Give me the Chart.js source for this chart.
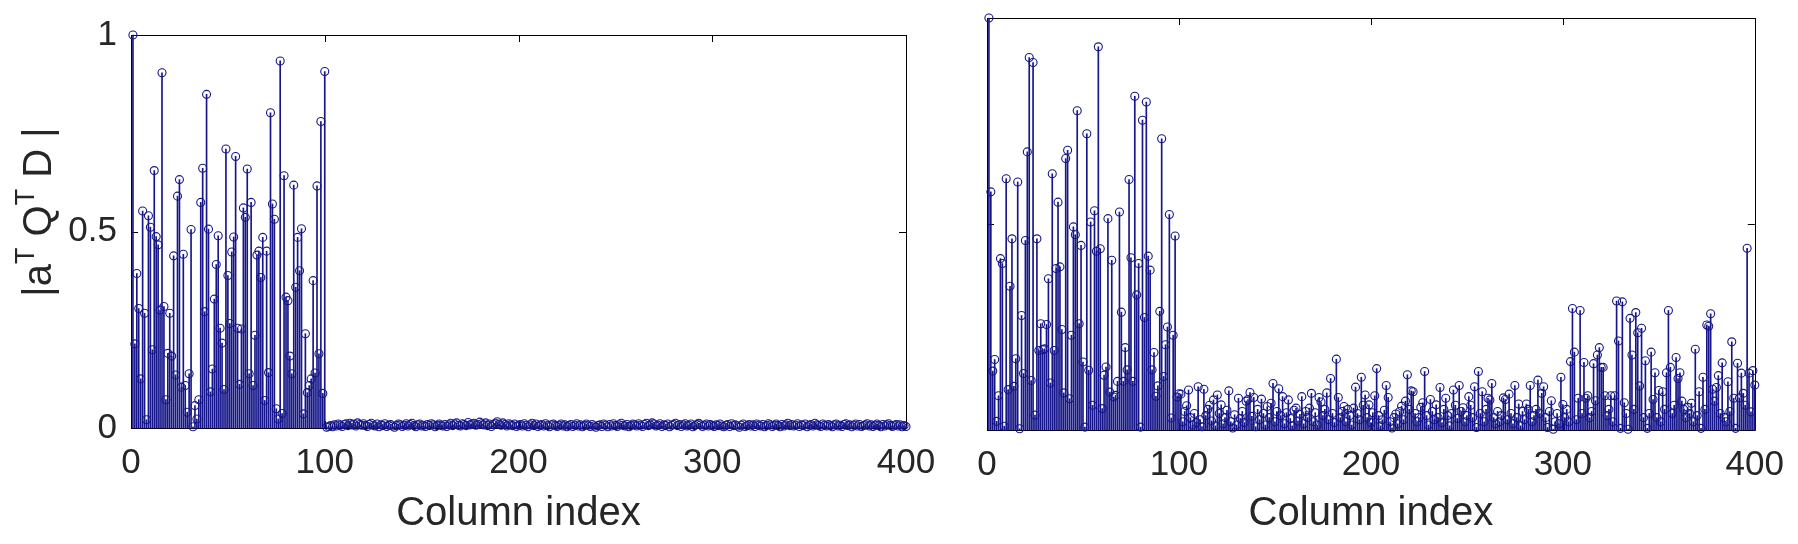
<!DOCTYPE html>
<html>
<head>
<meta charset="utf-8">
<script src="https://cdn.jsdelivr.net/npm/chart.js@4.4.0/dist/chart.umd.min.js"></script>
<style>
  html, body { margin:0; padding:0; background:#fff; }
  body { width:1798px; height:544px; position:relative; overflow:hidden; }
  canvas { position:absolute; top:0; }
  #leftChart { left:0; }
  #rightChart { left:950px; }
</style>
</head>
<body>
<canvas id="leftChart" width="950" height="544"></canvas>
<canvas id="rightChart" width="848" height="544"></canvas>
<script>
// ---------------- data ----------------
const xTicks = [0, 100, 200, 300, 400];
const yTicks = [0, 0.5, 1];
const xTitle = 'Column index';

// left panel, columns 1..100
const leftHead = [
  1.0, 0.214, 0.393, 0.304, 0.125, 0.552, 0.292, 0.021, 0.54, 0.511,
  0.199, 0.655, 0.487, 0.466, 0.30, 0.904, 0.309, 0.072, 0.19, 0.292,
  0.183, 0.438, 0.135, 0.59, 0.632, 0.104, 0.442, 0.108, 0.04, 0.138,
  0.505, 0.003, 0.057, 0.023, 0.072, 0.574, 0.661, 0.296, 0.849, 0.506,
  0.092, 0.15, 0.328, 0.416, 0.489, 0.254, 0.216, 0.098, 0.71, 0.388,
  0.266, 0.448, 0.486, 0.691, 0.254, 0.111, 0.252, 0.56, 0.536, 0.659,
  0.138, 0.574, 0.108, 0.236, 0.44, 0.45, 0.383, 0.485, 0.07, 0.45,
  0.141, 0.802, 0.57, 0.531, 0.049, 0.023, 0.934, 0.037, 0.642, 0.333,
  0.324, 0.183, 0.138, 0.618, 0.358, 0.485, 0.40, 0.507, 0.036, 0.24,
  0.09, 0.108, 0.125, 0.375, 0.14, 0.616, 0.189, 0.78, 0.088, 0.907
];
// left panel, columns 101..400
const leftTail = [
  0.002,0.004,0.006,0.003,0.008,0.005,0.010,0.007,0.004,0.009,0.011,0.006,0.012,0.008,0.010,0.005,0.013,0.009,0.007,0.011,
  0.006,0.004,0.009,0.012,0.007,0.005,0.010,0.003,0.008,0.006,0.011,0.004,0.007,0.009,0.005,0.002,0.006,0.010,0.008,0.004,
  0.007,0.011,0.005,0.009,0.012,0.006,0.003,0.008,0.010,0.005,0.007,0.004,0.009,0.006,0.011,0.008,0.003,0.006,0.010,0.007,
  0.005,0.009,0.004,0.008,0.012,0.006,0.010,0.013,0.007,0.005,0.011,0.009,0.006,0.014,0.008,0.010,0.012,0.007,0.009,0.015,
  0.011,0.008,0.013,0.006,0.010,0.004,0.009,0.012,0.016,0.010,0.007,0.013,0.009,0.005,0.011,0.008,0.006,0.010,0.004,0.007,
  0.009,0.005,0.011,0.007,0.003,0.008,0.012,0.006,0.010,0.004,0.007,0.009,0.005,0.011,0.006,0.003,0.008,0.010,0.006,0.004,
  0.007,0.010,0.005,0.008,0.003,0.006,0.009,0.004,0.007,0.011,0.005,0.008,0.003,0.006,0.010,0.007,0.004,0.009,0.005,0.002,
  0.006,0.008,0.004,0.010,0.007,0.003,0.009,0.005,0.011,0.006,0.004,0.008,0.012,0.007,0.005,0.009,0.003,0.006,0.010,0.008,
  0.005,0.011,0.007,0.004,0.009,0.012,0.006,0.008,0.013,0.010,0.005,0.007,0.011,0.004,0.008,0.006,0.010,0.003,0.007,0.009,
  0.012,0.006,0.009,0.004,0.008,0.011,0.005,0.007,0.010,0.003,0.006,0.009,0.012,0.008,0.004,0.007,0.010,0.005,0.009,0.006,
  0.004,0.008,0.006,0.010,0.005,0.003,0.007,0.009,0.004,0.011,0.006,0.008,0.005,0.002,0.007,0.010,0.004,0.006,0.009,0.005,
  0.008,0.004,0.010,0.007,0.005,0.009,0.003,0.006,0.011,0.008,0.004,0.007,0.010,0.006,0.003,0.009,0.005,0.008,0.012,0.006,
  0.009,0.005,0.007,0.011,0.004,0.008,0.006,0.010,0.003,0.007,0.009,0.005,0.012,0.008,0.006,0.004,0.010,0.007,0.005,0.009,
  0.006,0.003,0.008,0.010,0.005,0.007,0.004,0.009,0.011,0.006,0.008,0.003,0.007,0.010,0.005,0.009,0.004,0.006,0.008,0.011,
  0.005,0.008,0.004,0.007,0.010,0.006,0.003,0.009,0.005,0.008,0.011,0.006,0.004,0.007,0.009,0.005,0.008,0.003,0.006,0.004
];
// right panel, columns 1..100
const rightHead = [
  1.0, 0.578, 0.143, 0.171, 0.021, 0.083, 0.416, 0.404, 0.009, 0.61,
  0.098, 0.349, 0.464, 0.106, 0.173, 0.602, 0.003, 0.278, 0.137, 0.46,
  0.675, 0.904, 0.12, 0.892, 0.036, 0.464, 0.193, 0.258, 0.195, 0.197,
  0.256, 0.367, 0.114, 0.622, 0.193, 0.392, 0.553, 0.396, 0.244, 0.09,
  0.659, 0.679, 0.076, 0.23, 0.493, 0.474, 0.775, 0.258, 0.448, 0.165,
  0.007, 0.719, 0.145, 0.505, 0.06, 0.532, 0.434, 0.93, 0.44, 0.052,
  0.133, 0.153, 0.513, 0.092, 0.412, 0.08, 0.084, 0.118, 0.529, 0.286,
  0.118, 0.2, 0.146, 0.608, 0.418, 0.118, 0.81, 0.328, 0.404, 0.007,
  0.752, 0.273, 0.796, 0.422, 0.388, 0.146, 0.188, 0.082, 0.107, 0.288,
  0.707, 0.13, 0.207, 0.25, 0.523, 0.029, 0.23, 0.471, 0.08, 0.088
];
// right panel, columns 101..250
const rightMid = [
  0.087,0.02,0.045,0.059,0.097,0.03,0.012,0.04,0.018,0.105,
  0.025,0.008,0.099,0.035,0.05,0.06,0.022,0.073,0.01,0.085,
  0.04,0.061,0.015,0.03,0.048,0.095,0.02,0.005,0.037,0.012,
  0.077,0.028,0.045,0.018,0.07,0.074,0.091,0.033,0.079,0.008,
  0.05,0.025,0.075,0.04,0.012,0.057,0.03,0.065,0.113,0.02,
  0.045,0.1,0.035,0.081,0.015,0.042,0.073,0.028,0.01,0.048,
  0.053,0.022,0.038,0.081,0.015,0.045,0.03,0.053,0.089,0.02,
  0.042,0.012,0.079,0.068,0.035,0.05,0.09,0.025,0.125,0.04,
  0.018,0.172,0.079,0.03,0.045,0.057,0.02,0.05,0.035,0.012,
  0.053,0.104,0.04,0.025,0.128,0.06,0.085,0.03,0.061,0.018,
  0.042,0.083,0.149,0.035,0.01,0.025,0.048,0.108,0.079,0.02,
  0.005,0.03,0.039,0.015,0.045,0.058,0.025,0.07,0.134,0.05,
  0.095,0.093,0.04,0.02,0.03,0.055,0.066,0.142,0.035,0.012,
  0.074,0.045,0.025,0.061,0.03,0.103,0.018,0.05,0.077,0.035,
  0.01,0.04,0.097,0.06,0.028,0.108,0.045,0.054,0.02,0.035
];
// right panel, columns 251..400
const rightTail = [
  0.081,0.06,0.03,0.105,0.006,0.142,0.04,0.093,0.02,0.05,
  0.077,0.073,0.113,0.03,0.015,0.045,0.02,0.035,0.078,0.074,
  0.025,0.087,0.04,0.015,0.108,0.03,0.063,0.01,0.045,0.025,
  0.063,0.05,0.108,0.02,0.035,0.05,0.121,0.04,0.089,0.105,
  0.03,0.006,0.045,0.071,0.002,0.02,0.04,0.015,0.128,0.062,
  0.03,0.05,0.02,0.166,0.295,0.189,0.025,0.077,0.29,0.04,
  0.164,0.077,0.083,0.03,0.045,0.161,0.071,0.182,0.2,0.152,
  0.152,0.083,0.035,0.05,0.083,0.02,0.083,0.313,0.216,0.004,
  0.311,0.066,0.04,0.002,0.271,0.182,0.05,0.285,0.236,0.107,
  0.247,0.03,0.168,0.004,0.04,0.189,0.074,0.139,0.03,0.096,
  0.02,0.093,0.05,0.139,0.29,0.152,0.04,0.06,0.176,0.125,
  0.139,0.07,0.05,0.03,0.055,0.04,0.065,0.02,0.196,0.035,
  0.093,0.004,0.128,0.05,0.255,0.252,0.282,0.099,0.07,0.103,
  0.132,0.04,0.163,0.03,0.02,0.117,0.045,0.214,0.077,0.004,
  0.162,0.078,0.138,0.089,0.06,0.441,0.138,0.044,0.144,0.109
];

const leftValues = leftHead.concat(leftTail);
const rightValues = rightHead.concat(rightMid, rightTail);
const columns = leftValues.map((_, i) => i + 1);

// ---------------- styling ----------------
const STEM = '#16168a';
const TEXT = '#262626';
const FONT = '"Liberation Sans", Arial, Helvetica, sans-serif';

const framePlugin = {
  id: 'frame',
  beforeDatasetsDraw(chart) {
    const { ctx, chartArea: a, scales: { x, y } } = chart;
    ctx.save();
    ctx.strokeStyle = '#000';
    ctx.lineWidth = 1;
    ctx.beginPath();
    ctx.rect(Math.round(a.left) + 0.5, Math.round(a.top) + 0.5,
             Math.round(a.right - a.left), Math.round(a.bottom - a.top));
    const L = 7;
    xTicks.forEach(v => {
      const px = Math.round(x.getPixelForValue(v)) + 0.5;
      ctx.moveTo(px, a.bottom); ctx.lineTo(px, a.bottom - L);
      ctx.moveTo(px, a.top); ctx.lineTo(px, a.top + L);
    });
    yTicks.forEach(v => {
      const py = Math.round(y.getPixelForValue(v)) + 0.5;
      ctx.moveTo(a.left, py); ctx.lineTo(a.left + L, py);
      ctx.moveTo(a.right, py); ctx.lineTo(a.right - L, py);
    });
    ctx.stroke();
    ctx.restore();
  }
};

// y-axis label with superscripts: |a^T Q^T D |
const yLabelParts = [
  { t: '|a', sup: false }, { t: 'T', sup: true },
  { t: ' Q', sup: false }, { t: 'T', sup: true },
  { t: ' D |', sup: false }
];
const yLabelPlugin = {
  id: 'ylabel',
  afterDraw(chart, args, opts) {
    if (!opts.show) return;
    const { ctx } = chart;
    const big = 40, small = 27;
    ctx.save();
    ctx.fillStyle = TEXT;
    ctx.textBaseline = 'alphabetic';
    ctx.textAlign = 'left';
    let total = 0;
    yLabelParts.forEach(p => {
      ctx.font = (p.sup ? small : big) + 'px ' + FONT;
      total += ctx.measureText(p.t).width;
    });
    ctx.translate(opts.x, opts.y);
    ctx.rotate(-Math.PI / 2);
    let cx = -total / 2;
    yLabelParts.forEach(p => {
      ctx.font = (p.sup ? small : big) + 'px ' + FONT;
      ctx.fillText(p.t, cx, p.sup ? -17 : 0);
      cx += ctx.measureText(p.t).width;
    });
    ctx.restore();
  }
};

function makeChart(id, values, cfg) {
  const pts = columns.map((c, i) => ({ x: c, y: values[i] }));
  return new Chart(document.getElementById(id), {
    type: 'bar',
    data: {
      datasets: [
        { type: 'bar', data: pts, backgroundColor: STEM, borderWidth: 0,
          barThickness: 1, clip: false, order: 2 },
        { type: 'scatter', data: pts, pointStyle: 'circle', pointRadius: 4,
          pointBorderWidth: 1.1, pointBorderColor: STEM,
          pointBackgroundColor: 'rgba(0,0,0,0)', clip: false, order: 1 }
      ]
    },
    options: {
      responsive: false, animation: false, devicePixelRatio: 1,
      events: [],
      layout: { padding: { top: cfg.top, right: cfg.right, left: 0, bottom: 0 } },
      plugins: {
        legend: { display: false }, tooltip: { enabled: false },
        ylabel: { show: cfg.ylabel, x: 51, y: 212 }
      },
      scales: {
        x: {
          type: 'linear', min: 0, max: 400, offset: false,
          afterBuildTicks(s) { s.ticks = xTicks.map(v => ({ value: v })); },
          ticks: { font: { size: 35, family: FONT }, color: TEXT, padding: 14,
                   maxRotation: 0, autoSkip: false },
          grid: { display: false, drawTicks: false, offset: false }, border: { display: false },
          title: { display: true, text: xTitle, color: TEXT,
                   font: { size: 40, family: FONT }, padding: { top: 0, bottom: 6 } },
          afterFit(s) { s.height = cfg.xh; }
        },
        y: {
          type: 'linear', min: 0, max: 1,
          afterBuildTicks(s) { s.ticks = yTicks.map(v => ({ value: v })); },
          ticks: { display: cfg.ylabel, font: { size: 35, family: FONT }, color: TEXT,
                   padding: 14, callback: v => String(v) },
          grid: { display: false, drawTicks: false }, border: { display: false },
          afterFit(s) { s.width = cfg.yw; }
        }
      }
    },
    plugins: [framePlugin, yLabelPlugin]
  });
}

makeChart('leftChart', leftValues, { top: 16, right: 44, yw: 131, xh: 116, ylabel: true });
makeChart('rightChart', rightValues, { top: 18, right: 36, yw: 37, xh: 114, ylabel: false });
</script>
</body>
</html>
